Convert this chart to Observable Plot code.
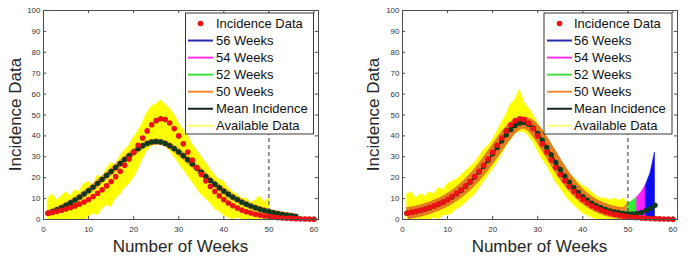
<!DOCTYPE html>
<html><head><meta charset="utf-8">
<script src="https://cdn.jsdelivr.net/npm/d3@7"></script>
<script src="https://cdn.jsdelivr.net/npm/@observablehq/plot@0.6"></script>
<style>
body{margin:0;background:#fff}
#chart{position:relative;width:693px;height:260px;overflow:hidden}
#chart svg{position:absolute;top:0}
</style>
</head><body><div id="chart"></div>
<script>
// ---------- data ----------
const weeks = [1,2,3,4,5,6,7,8,9,10,11,12,13,14,15,16,17,18,19,20,21,22,23,24,25,26,27,28,29,30,
  31,32,33,34,35,36,37,38,39,40,41,42,43,44,45,46,47,48,49,50,51,52,53,54,55,56,57,58,59,60];
const incidence = [3.0,3.4,3.9,4.4,5.0,5.7,6.5,7.4,8.4,9.6,11.0,12.5,14.2,16.1,18.2,20.5,23.1,25.9,28.9,32.1,
  35.5,39.0,42.4,45.3,47.3,48.2,47.8,46.2,43.5,40.0,36.2,32.3,28.5,24.9,21.5,18.5,15.8,13.4,11.3,9.5,
  7.9,6.6,5.5,4.5,3.7,3.1,2.5,2.1,1.7,1.4,1.1,0.9,0.7,0.6,0.5,0.4,0.3,0.25,0.2,0.15];
// mean incidence (weeks 1..56)
const meanLeft = [3.0,3.8,4.7,5.7,6.8,8.0,9.3,10.7,12.2,13.8,15.5,17.3,19.2,21.1,23.0,24.9,26.8,28.7,30.5,32.3,
  33.9,35.3,36.4,37.1,37.3,37.1,36.4,35.3,33.9,32.3,30.5,28.6,26.6,24.6,22.6,20.6,18.7,16.9,15.2,13.6,
  12.1,10.7,9.5,8.3,7.3,6.4,5.6,4.9,4.3,3.7,3.2,2.8,2.4,2.1,1.8,1.5];
const meanRight = [3.0,3.4,3.8,4.3,4.9,5.6,6.4,7.3,8.3,9.5,10.8,12.3,14.0,15.9,18.0,20.3,22.8,25.5,28.4,31.4,
  34.5,37.6,40.5,43.0,45.0,46.2,46.4,45.6,43.8,41.2,38.0,34.5,30.9,27.3,23.9,20.7,17.8,15.2,12.9,10.9,
  9.2,7.8,6.6,5.6,4.8,4.1,3.6,3.2,2.9,2.7,2.7,2.9,3.4,4.2,5.3,6.8];
// envelope of the available (noisy) data, weeks 1..50
const availUpperLeft = [10,12,9,11,13,11,14,13,17,18,16,21,20,24,27,26,30,33,35,39,42,46,51,54,55,57,55,53,50,46,
  43,40,36,33,30,27,24,21,19,18,15,13,12,10,10,8,9,11,8,10];
const availLowerLeft = [0,0,0,0,0,0,0,0,0,1,3,2,5,7,6,10,12,15,17,20,24,29,33,35,36,37,35,33,30,27,
  24,21,18,15,12,10,8,5,4,2,1,0,1,0,0,0,0,0,0,0];
const availUpperRight = [12,13,10,12,11,13,12,15,14,17,18,19,21,23,25,27,30,33,35,38,42,46,50,55,57,62,56,53,50,46,
  43,39,35,32,28,25,22,20,18,16,15,13,11,10,10,9,10,9,10,8];
const availLowerRight = [0,0,0,0,0,0,1,0,2,2,3,5,6,8,10,12,15,18,21,24,27,31,35,38,41,42,42,40,37,33,
  29,26,22,18,15,12,9,7,5,3,2,1,0,0,0,0,0,0,0,0];
// forecast fans (right panel)
const fan50Weeks = [48,49,50], fan50Upper = [3.8,5.5,7.6], fan50Lower = [1.5,1.2,1.2];
const fan52Weeks = [50,51,52], fan52Upper = [7.6,8.8,10.5], fan52Lower = [1.5,1.3,1.2];
const fan54Weeks = [52,53,54], fan54Upper = [10.5,13,16.5], fan54Lower = [1.3,1.1,1.0];
const fan56Weeks = [54,55,56], fan56Upper = [16.5,22,32], fan56Lower = [1.2,1.0,1.0];
const xTicks = [0,10,20,30,40,50,60];
const yTicks = [0,10,20,30,40,50,60,70,80,90,100];
const legendLabels = ["Incidence Data","56 Weeks","54 Weeks","52 Weeks","50 Weeks","Mean Incidence","Available Data"];
const cutWeek = [50];

// ---------- helpers ----------
const series = (xs, ys) => ys.map((v, i) => ({week: xs[i], value: v}));
const band = (xs, lo, hi) => lo.map((v, i) => ({week: xs[i], lo: v, hi: hi[i]}));

const C = {
  red: "#ee1111", blue: "#0c0cf0", magenta: "#ff22ff", green: "#33ee33", orange: "#f0862a",
  orangeDark: "#e57d1e", mean: "#0d3a1c", yellow: "#ffff00", axis: "#4d4d4d", text: "#262626"
};
const legendColors = [C.red, "#2a2ab0", "#ff33ee", "#44dd44", "#f28a2e", "#102418", "#ffff77"];

function panel({width, left, right, upper, lower, mean, orangeWidth, orangeColor, orangeWeeks, fans, legendX, lineX0, lineX1, textX, ylabelX}) {
  const marks = [
    Plot.areaY(band(weeks, lower, upper), {x: "week", y1: "lo", y2: "hi", fill: C.yellow, stroke: C.yellow, strokeWidth: 0.8}),
    Plot.line(series(weeks, mean.slice(0, orangeWeeks)), {x: "week", y: "value", stroke: orangeColor, strokeWidth: orangeWidth, strokeLinecap: "butt"}),
  ];
  for (const f of fans) {
    marks.push(Plot.areaY(band(f.w, f.lo, f.hi), {x: "week", y1: "lo", y2: "hi", fill: f.color, stroke: f.color, strokeWidth: 0.6}));
  }
  marks.push(
    Plot.ruleX(cutWeek, {x: d => d, y1: 0, y2: 100, stroke: "#555", strokeWidth: 1.2, strokeDasharray: "4,3"}),
    Plot.line(series(weeks, mean), {x: "week", y: "value", stroke: "#000", strokeWidth: 1.5}),
    Plot.dot(series(weeks, mean), {x: "week", y: "value", r: 2.7, fill: C.mean}),
    Plot.dot(series(weeks, incidence), {x: "week", y: "value", r: 2.8, fill: C.red}),
    Plot.frame({stroke: C.axis, strokeWidth: 1}),
    Plot.ruleX(xTicks, {x: d => d, y1: 0, y2: 1.5, stroke: C.axis}),
    Plot.ruleX(xTicks, {x: d => d, y1: 98.5, y2: 100, stroke: C.axis}),
    Plot.ruleY(yTicks, {y: d => d, x1: 0, x2: 0.7, stroke: C.axis}),
    Plot.ruleY(yTicks, {y: d => d, x1: 60.3, x2: 61, stroke: C.axis}),
    Plot.axisX(xTicks, {tickSize: 0, tickPadding: 7, fontSize: 8, fill: "#333", label: null}),
    Plot.axisY(yTicks, {tickSize: 0, tickPadding: 3, fontSize: 8, fill: "#333", label: null})
  );
  const svg = Plot.plot({
    width, height: 260,
    marginLeft: left, marginRight: right, marginTop: 10, marginBottom: 41,
    x: {domain: [0, 61]},
    y: {domain: [0, 100]},
    style: {fontFamily: "'Liberation Sans', Arial, sans-serif", fontSize: "8px", background: "white", overflow: "visible"},
    marks
  });
  const s = d3.select(svg);
  // axis titles
  s.append("text").attr("x", (left + width - right) / 2).attr("y", 252).attr("text-anchor", "middle")
    .attr("font-size", 17).attr("fill", C.text).text("Number of Weeks");
  s.append("text").attr("transform", `translate(${ylabelX},114.5) rotate(-90)`).attr("text-anchor", "middle")
    .attr("dy", "0.35em").attr("font-size", 17).attr("fill", C.text).text("Incidence Data");
  // legend
  const g = s.append("g").attr("text-anchor", "start");
  g.append("rect").attr("x", legendX).attr("y", 13).attr("width", 128).attr("height", 121)
    .attr("fill", "white").attr("stroke", "#222").attr("stroke-width", 0.9);
  legendLabels.forEach((lab, i) => {
    const y = 23.5 + i * 17.05;
    if (i === 0) {
      g.append("circle").attr("cx", (lineX0 + lineX1) / 2).attr("cy", y).attr("r", 2.8).attr("fill", legendColors[0]);
    } else {
      g.append("line").attr("x1", lineX0).attr("x2", lineX1).attr("y1", y).attr("y2", y)
        .attr("stroke", legendColors[i]).attr("stroke-width", 2);
    }
    g.append("text").attr("x", textX).attr("y", y).attr("dy", "0.36em").attr("font-size", 13)
      .attr("text-anchor", "start").attr("fill", "#111").text(lab);
  });
  return svg;
}

const leftSvg = panel({
  width: 346, left: 43, right: 28, upper: availUpperLeft, lower: availLowerLeft, mean: meanLeft,
  orangeWidth: 6, orangeColor: C.orange, orangeWeeks: 56, fans: [],
  legendX: 185.5, lineX0: 188, lineX1: 213, textX: 216, ylabelX: 15
});
const rightSvg = panel({
  width: 347, left: 56, right: 16, upper: availUpperRight, lower: availLowerRight, mean: meanRight,
  orangeWidth: 12, orangeColor: C.orangeDark, orangeWeeks: 50,
  fans: [
    {w: fan50Weeks, lo: fan50Lower, hi: fan50Upper, color: C.orange},
    {w: fan52Weeks, lo: fan52Lower, hi: fan52Upper, color: C.green},
    {w: fan54Weeks, lo: fan54Lower, hi: fan54Upper, color: C.magenta},
    {w: fan56Weeks, lo: fan56Lower, hi: fan56Upper, color: C.blue}
  ],
  legendX: 198, lineX0: 201, lineX1: 226, textX: 228, ylabelX: 27
});
leftSvg.style.left = "0px";
rightSvg.style.left = "346px";
document.getElementById("chart").append(leftSvg, rightSvg);
</script>
</body></html>
